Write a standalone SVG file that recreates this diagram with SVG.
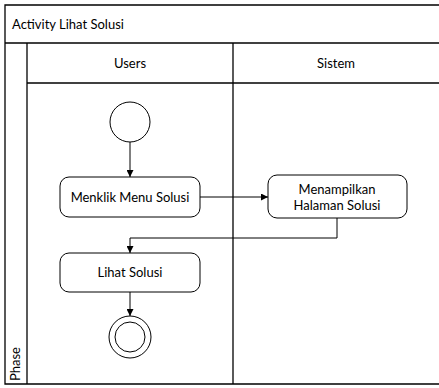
<svg xmlns="http://www.w3.org/2000/svg" width="439" height="388" viewBox="0 0 439 388">
  <style>
    .frame { fill: none; stroke: #000; stroke-width: 1.3; }
    .line { fill: none; stroke: #000; stroke-width: 1; }
    .node { fill: #fff; stroke: #000; stroke-width: 1; }
    text { font-family: Lato, "Open Sans", "Liberation Sans", sans-serif; font-size: 13px; fill: #000; }
    .c { text-anchor: middle; }
  </style>
  <defs>
    <marker id="arrow" viewBox="0 0 10 10" refX="10" refY="5" markerWidth="7" markerHeight="7" orient="auto" markerUnits="userSpaceOnUse">
      <path d="M0,0 L10,5 L0,10 z" fill="#000"/>
    </marker>
  </defs>
  <rect width="439" height="388" fill="#fff"/>

  <!-- pool and swimlanes -->
  <g id="pool">
    <path class="frame" d="M440,5 H5 V384 H440"/>
    <line class="frame" x1="5" y1="43" x2="440" y2="43"/>
    <line class="frame" x1="27" y1="43" x2="27" y2="384"/>
    <line class="frame" x1="27" y1="83" x2="440" y2="83"/>
    <line class="frame" x1="233" y1="43" x2="233" y2="384"/>
    <text x="12" y="29">Activity Lihat Solusi</text>
    <text x="130" y="68" class="c">Users</text>
    <text x="336" y="68" class="c">Sistem</text>
    <text transform="translate(20,381) rotate(-90)">Phase</text>
  </g>

  <!-- connectors -->
  <g id="connectors">
    <line class="line" x1="130" y1="142" x2="130" y2="177" marker-end="url(#arrow)"/>
    <line class="line" x1="200" y1="197" x2="268" y2="197" marker-end="url(#arrow)"/>
    <polyline class="line" points="337,218 337,238 130,238 130,253" marker-end="url(#arrow)"/>
    <line class="line" x1="130" y1="292" x2="130" y2="316" marker-end="url(#arrow)"/>
  </g>

  <g id="start">
    <circle class="node" cx="130" cy="122" r="20"/>
  </g>

  <g id="menklik-menu-solusi">
    <rect class="node" x="60" y="177" width="140" height="40" rx="9"/>
    <text x="130" y="202" class="c">Menklik Menu Solusi</text>
  </g>

  <g id="menampilkan-halaman-solusi">
    <rect class="node" x="268" y="175" width="139" height="43" rx="9"/>
    <text x="337" y="194" class="c">Menampilkan</text>
    <text x="337" y="210" class="c">Halaman Solusi</text>
  </g>

  <g id="lihat-solusi">
    <rect class="node" x="60" y="253" width="140" height="39" rx="9"/>
    <text x="130" y="277" class="c">Lihat Solusi</text>
  </g>

  <g id="end">
    <circle class="node" cx="130" cy="337" r="21"/>
    <circle class="node" cx="130" cy="337" r="15"/>
  </g>
</svg>
